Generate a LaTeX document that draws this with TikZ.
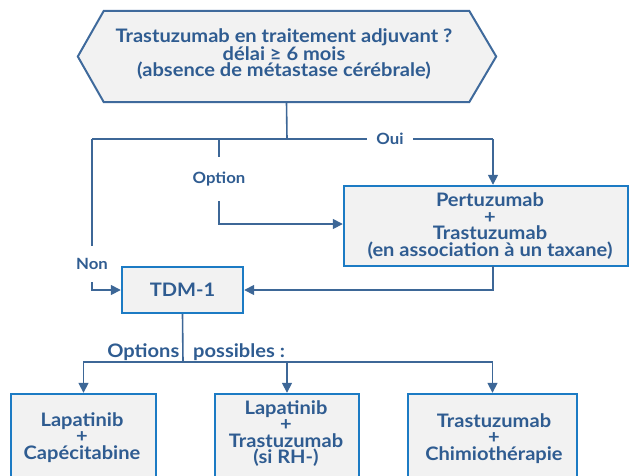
\documentclass[tikz,border=0pt]{standalone}
\usepackage{fontspec}
\setmainfont{Lato}[FakeStretch=1.08]
\usetikzlibrary{arrows.meta,calc}
\definecolor{ink}{HTML}{2F5C91}
\definecolor{wire}{HTML}{3D6797}
\definecolor{frame}{HTML}{1C7BC4}
\definecolor{hexline}{HTML}{3F6A9C}
\definecolor{panel}{HTML}{F2F2F2}
\begin{document}
\begin{tikzpicture}[x=1pt,y=-1pt,
  boxtext/.style={text=ink,font=\fontsize{18.6}{16.5}\selectfont\bfseries,align=center},
  treat/.style={boxtext,draw=frame,line width=2.4pt,fill=panel,inner sep=0pt},
  conn/.style={draw=wire,line width=1.6pt,-{Triangle[length=10pt,width=10pt]}},
  wireonly/.style={draw=wire,line width=1.6pt},
  tag/.style={text=ink,font=\fontsize{15.5}{15}\selectfont\bfseries,fill=white,inner sep=0pt},
]
\useasboundingbox (0,0) rectangle (629,475);
\clip (0,0) rectangle (629,475);

% decision hexagon
\node[minimum width=365pt,minimum height=91pt,inner sep=0pt] (q) at (286.5,56.5) {};
\draw[hexline,line width=2pt,fill=panel]
  (q.north west) -- (q.north east) -- ($(q.east)+(27,0)$) -- (q.south east)
  -- (q.south west) -- ($(q.west)+(-26,0)$) -- cycle;
\node[boxtext] (qtext) at (284,54) {Trastuzumab en traitement adjuvant ?\\délai ≥ 6 mois\\(absence de métastase cérébrale)};

% treatment boxes
\node[treat,minimum width=284pt,minimum height=80pt] (pert) at (486,226) {};
\node[boxtext] (perttext) at (490,226) {Pertuzumab\\+\\Trastuzumab\\(en association à un taxane)};
\node[treat,minimum width=121pt,minimum height=46pt] (tdm) at (182.5,290) {TDM-1};
\node[treat,minimum width=145pt,minimum height=84pt] (b1) at (83.5,436) {};
\node[boxtext] (b1text) at (82,437.5) {Lapatinib\\+\\Capécitabine};
\node[treat,minimum width=144pt,minimum height=84pt] (b2) at (287,436) {};
\node[boxtext] (b2text) at (286,433.5) {Lapatinib\\+\\Trastuzumab\\(si RH-)};
\node[treat,minimum width=169pt,minimum height=84pt] (b3) at (492.5,436) {};
\node[boxtext] (b3text) at (494,438.5) {Trastuzumab\\+\\Chimiothérapie};

% branching points
\coordinate (split) at (287,139);
\coordinate (nonx) at (92,139);
\coordinate (optx) at (219,139);
\coordinate (ouix) at (493,139);
\coordinate (pout) at (493,266);
\coordinate (fork) at (183,362);

% connectors from the question
\draw[wireonly] (q.south) -- (split);
\draw[wireonly] (nonx) -- (ouix);
\draw[conn] (ouix) -- (ouix |- pert.north);
\draw[conn] (optx) |- (pert.west |- 0,224);
\draw[conn] (nonx) |- (tdm.west);
\draw[conn] (pout) |- (tdm.east);

% labels on the branches
\node[tag,inner xsep=9pt,inner ysep=4pt] (oui) at (390,139) {Oui};
\node[tag,inner xsep=3pt,inner ysep=15pt] (opt) at (219,179) {Option};
\node[tag,inner xsep=3pt,inner ysep=12pt] (non) at (92,264) {Non};

% options after TDM-1
\draw[wireonly] (tdm.south) -- (fork);
\draw[conn] (fork) -| (b1.north);
\draw[conn] (fork) -| (b3.north);
\draw[conn] (b2.north |- fork) -- (b2.north);
\node[boxtext,anchor=east,inner sep=0pt] (optsa) at (179.5,352) {Options};
\node[boxtext,anchor=west,inner sep=0pt] (optsb) at (193,352) {possibles :};
\end{tikzpicture}
\end{document}
